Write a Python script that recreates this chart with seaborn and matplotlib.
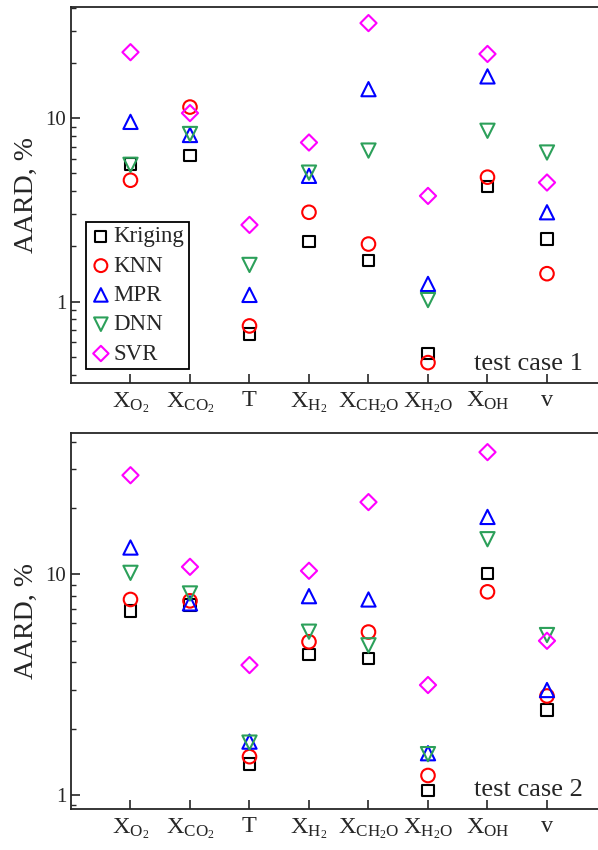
import numpy as np
import pandas as pd
import matplotlib
matplotlib.use("Agg")
import matplotlib.pyplot as plt
import seaborn as sns

# Output variables (x axis) and regression methods
variables = ["XO2", "XCO2", "T", "XH2", "XCH2O", "XH2O", "XOH", "v"]
tick_labels = [
    r"$\mathrm{X_{O_2}}$", r"$\mathrm{X_{CO_2}}$", r"$\mathrm{T}$",
    r"$\mathrm{X_{H_2}}$", r"$\mathrm{X_{CH_2O}}$", r"$\mathrm{X_{H_2O}}$",
    r"$\mathrm{X_{OH}}$", r"$\mathrm{v}$",
]
methods = ["Kriging", "KNN", "MPR", "DNN", "SVR"]

# AARD (%) for test case 1
case1_kriging = [5.62, 6.26, 0.667, 2.12, 1.67, 0.523, 4.24, 2.19]
case1_knn = [4.59, 11.5, 0.737, 3.07, 2.06, 0.465, 4.77, 1.42]
case1_mpr = [9.55, 8.1, 1.088, 4.85, 14.4, 1.249, 16.9, 3.07]
case1_dnn = [5.57, 8.2, 1.585, 5.05, 6.66, 1.02, 8.54, 6.50]
case1_svr = [22.9, 10.66, 2.62, 7.37, 33.0, 3.77, 22.4, 4.46]

# AARD (%) for test case 2
case2_kriging = [6.84, 7.26, 1.38, 4.34, 4.16, 1.046, 10.1, 2.43]
case2_knn = [7.70, 7.59, 1.49, 4.95, 5.48, 1.224, 8.34, 2.81]
case2_mpr = [13.25, 7.39, 1.744, 7.97, 7.70, 1.545, 18.24, 2.99]
case2_dnn = [10.17, 8.20, 1.726, 5.50, 4.77, 1.53, 14.45, 5.31]
case2_svr = [28.2, 10.83, 3.88, 10.39, 21.3, 3.15, 35.9, 5.00]

case1 = dict(zip(methods, [case1_kriging, case1_knn, case1_mpr, case1_dnn, case1_svr]))
case2 = dict(zip(methods, [case2_kriging, case2_knn, case2_mpr, case2_dnn, case2_svr]))

colors = {"Kriging": "#000000", "KNN": "#ff0000", "MPR": "#0000ff",
          "DNN": "#2ca05a", "SVR": "#ff00ff"}
markers = {"Kriging": "s", "KNN": "o", "MPR": "^", "DNN": "v", "SVR": "D"}
sizes = {"Kriging": 68, "KNN": 95, "MPR": 105, "DNN": 105, "SVR": 68}


def to_frame(case):
    rows = []
    for m in methods:
        for i, (var, val) in enumerate(zip(variables, case[m])):
            rows.append({"method": m, "variable": var, "pos": i, "AARD": val})
    return pd.DataFrame(rows)


sns.set_style("ticks")
plt.rcParams["font.family"] = ["Liberation Serif", "DejaVu Serif"]
plt.rcParams["mathtext.fontset"] = "custom"
plt.rcParams["mathtext.rm"] = "Liberation Serif"
plt.rcParams["mathtext.it"] = "Liberation Serif:italic"
plt.rcParams["axes.linewidth"] = 1.3

fig = plt.figure(figsize=(5.98, 8.5), dpi=100)
ax1 = fig.add_axes([0.1187, 0.5494, 0.8955, 0.4424])
ax2 = fig.add_axes([0.1187, 0.0479, 0.8955, 0.4431])


def draw(ax, case, ylim, label, legend):
    df = to_frame(case)
    for m in methods:
        sns.scatterplot(data=df[df.method == m], x="pos", y="AARD", ax=ax,
                        marker=markers[m], s=sizes[m], facecolor="none",
                        edgecolor=colors[m], linewidth=1.5, label=m,
                        legend=legend, zorder=3)
    ax.set_yscale("log")
    ax.set_xlim(-1, 8)
    ax.set_ylim(*ylim)
    ax.set_xticks(range(len(variables)))
    ax.set_xticklabels(tick_labels, fontsize=17.5)
    ax.yaxis.set_major_formatter(matplotlib.ticker.FuncFormatter(lambda v, p: f"{v:g}"))
    ax.yaxis.set_minor_formatter(matplotlib.ticker.NullFormatter())
    ax.tick_params(axis="both", which="major", direction="in", length=6.5,
                   width=1.2)
    ax.tick_params(axis="y", which="major", labelsize=15)
    ax.tick_params(axis="y", which="minor", direction="in", length=3.8, width=1.0)
    ax.tick_params(axis="x", which="minor", bottom=False)
    ax.tick_params(axis="x", pad=5)
    ax.set_xlabel("")
    ax.set_ylabel("AARD, %", fontsize=20, labelpad=5)
    ax.text(5.77, 0.034, label, transform=ax.get_xaxis_transform(),
            ha="left", va="baseline", fontsize=19)
    for s in ax.spines.values():
        s.set_visible(True)
        s.set_linewidth(1.3)


draw(ax1, case1, (0.36, 40.4), "test case 1", True)
draw(ax2, case2, (0.86, 44.0), "test case 2", False)

leg = ax1.legend(loc="lower left", bbox_to_anchor=(0.028, 0.037),
                 borderaxespad=0, fontsize=16.5, frameon=True, fancybox=False,
                 edgecolor="black", framealpha=1, labelspacing=0.36,
                 handletextpad=0.1, handlelength=0.9, borderpad=0.2,
                 markerscale=0.95)
leg.get_frame().set_linewidth(1.3)

fig.savefig("out.png", dpi=100)
